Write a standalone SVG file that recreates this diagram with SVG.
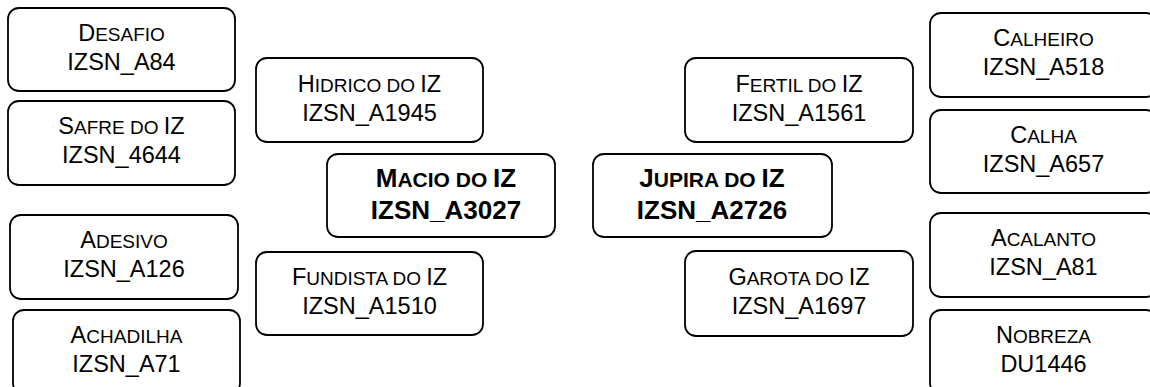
<svg xmlns="http://www.w3.org/2000/svg" width="1150" height="387" viewBox="0 0 1150 387">
<style>
.box{fill:#fff;stroke:#000;stroke-width:1.8}
.t{font-family:"Liberation Sans",Arial,sans-serif;font-size:23.5px;fill:#000;text-anchor:middle}
.t .s{font-size:19px}
.b{font-family:"Liberation Sans",Arial,sans-serif;font-size:26px;font-weight:bold;fill:#000;text-anchor:middle}
.b .s{font-size:21px}
</style>
<rect width="1150" height="387" fill="#fff"/>
<g id="connectors"/>
<g id="n-desafio"><rect class="box" x="8" y="8" width="227" height="83" rx="11"/>
<text class="t" x="121.5" y="41">D<tspan class="s">ESAFIO</tspan></text><text class="t" x="121.5" y="70">IZSN_A84</text></g>
<g id="n-safre"><rect class="box" x="8" y="101" width="227" height="84" rx="11"/>
<text class="t" x="121.5" y="134">S<tspan class="s">AFRE DO </tspan>IZ</text><text class="t" x="121.5" y="163">IZSN_4644</text></g>
<g id="n-adesivo"><rect class="box" x="10" y="215" width="228" height="84" rx="11"/>
<text class="t" x="124" y="248">A<tspan class="s">DESIVO</tspan></text><text class="t" x="124" y="277">IZSN_A126</text></g>
<g id="n-achadilha"><rect class="box" x="13" y="310" width="227" height="84" rx="11"/>
<text class="t" x="126.5" y="343">A<tspan class="s">CHADILHA</tspan></text><text class="t" x="126.5" y="372">IZSN_A71</text></g>
<g id="n-hidrico"><rect class="box" x="256" y="58" width="227" height="84" rx="11"/>
<text class="t" x="369.5" y="91.5">H<tspan class="s">IDRICO DO </tspan>IZ</text><text class="t" x="369.5" y="121">IZSN_A1945</text></g>
<g id="n-macio"><rect class="box" x="327" y="154" width="228" height="83" rx="11"/>
<text class="b" x="446" y="187">M<tspan class="s">ACIO DO </tspan>IZ</text><text class="b" x="446" y="219">IZSN_A3027</text></g>
<g id="n-fundista"><rect class="box" x="256" y="252" width="227" height="83" rx="11"/>
<text class="t" x="369.5" y="285">F<tspan class="s">UNDISTA DO </tspan>IZ</text><text class="t" x="369.5" y="314">IZSN_A1510</text></g>
<g id="n-fertil"><rect class="box" x="685" y="58" width="228" height="84" rx="11"/>
<text class="t" x="799" y="91.5">F<tspan class="s">ERTIL DO </tspan>IZ</text><text class="t" x="799" y="121">IZSN_A1561</text></g>
<g id="n-jupira"><rect class="box" x="593" y="154" width="239" height="83" rx="11"/>
<text class="b" x="712" y="187">J<tspan class="s">UPIRA DO </tspan>IZ</text><text class="b" x="712" y="218.5">IZSN_A2726</text></g>
<g id="n-garota"><rect class="box" x="685" y="251" width="228" height="85" rx="11"/>
<text class="t" x="799" y="285">G<tspan class="s">AROTA DO </tspan>IZ</text><text class="t" x="799" y="314">IZSN_A1697</text></g>
<g id="n-calheiro"><rect class="box" x="930" y="13" width="227" height="84" rx="11"/>
<text class="t" x="1043.5" y="46">C<tspan class="s">ALHEIRO</tspan></text><text class="t" x="1043.5" y="75">IZSN_A518</text></g>
<g id="n-calha"><rect class="box" x="930" y="110" width="227" height="83" rx="11"/>
<text class="t" x="1043.5" y="143">C<tspan class="s">ALHA</tspan></text><text class="t" x="1043.5" y="172">IZSN_A657</text></g>
<g id="n-acalanto"><rect class="box" x="930" y="213" width="227" height="84" rx="11"/>
<text class="t" x="1043.5" y="246">A<tspan class="s">CALANTO</tspan></text><text class="t" x="1043.5" y="275">IZSN_A81</text></g>
<g id="n-nobreza"><rect class="box" x="930" y="310" width="227" height="84" rx="11"/>
<text class="t" x="1043.5" y="343">N<tspan class="s">OBREZA</tspan></text><text class="t" x="1043.5" y="372">DU1446</text></g>
</svg>
